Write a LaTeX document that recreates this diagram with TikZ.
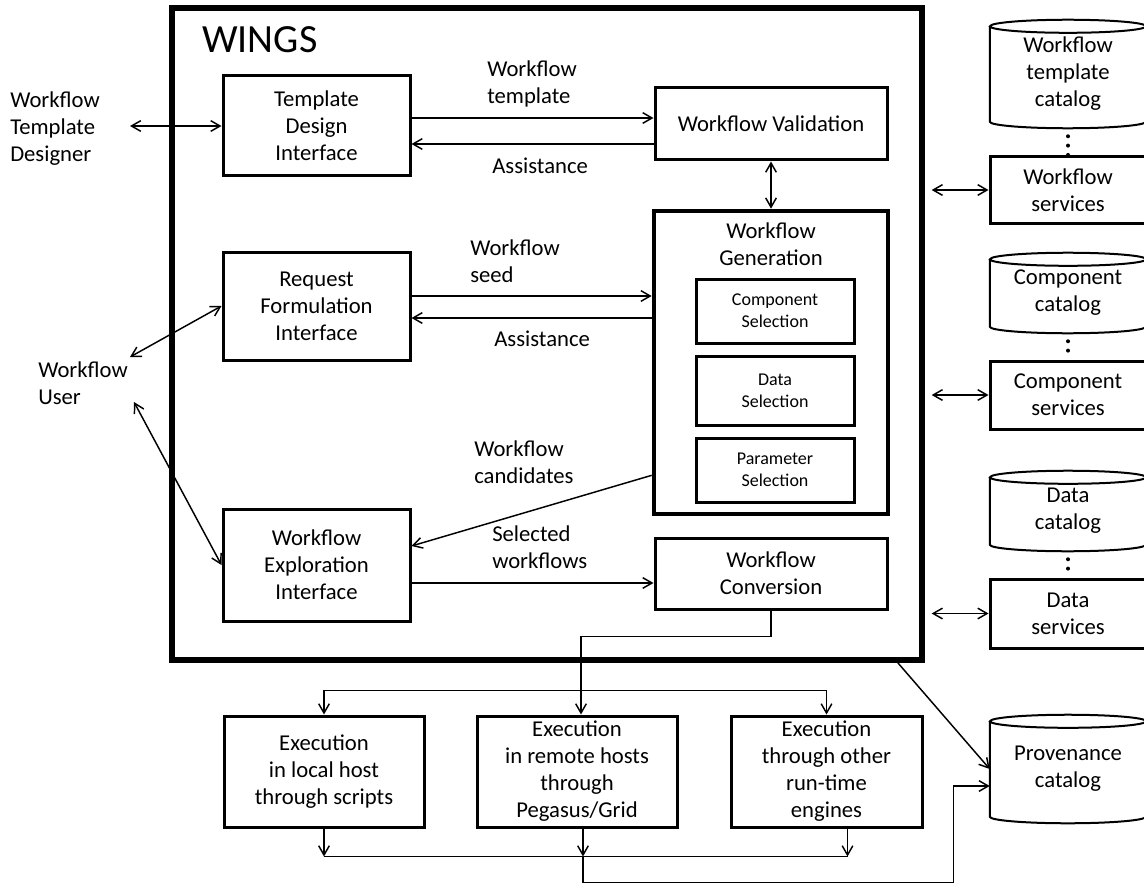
\documentclass[tikz,border=0pt]{standalone}
\usepackage{fontspec}
\setmainfont{Carlito}
\usetikzlibrary{arrows.meta}

\begin{document}
\begin{tikzpicture}[x = 0.75pt, y = -0.75pt, >={Straight Barb[length=7pt,width=8pt]}, font=\fontsize{17}{20.25}\selectfont]
\tikzstyle{boxStyle}=[draw, line width = 2.25pt, inner sep = 0pt, align = center]
\tikzstyle{smallBoxStyle}=[boxStyle, font = \fontsize{13.5}{16.5}\selectfont]
\tikzstyle{catalogStyle}=[inner sep = 0pt, align = center]
\tikzstyle{labelStyle}=[inner sep = 0pt, align = left, anchor = west]
\tikzstyle{cylStyle}=[line width = 1.5pt]
\tikzstyle{linkStyle}=[line width = 1.1pt]
\tikzstyle{dotStyle}=[line width = 3pt, line cap = round, dash pattern = on 0pt off 7pt, shorten <= 6pt]
\tikzset{boxSize/.style 2 args = {minimum width = #1*0.75pt, minimum height = #2*0.75pt}}
\useasboundingbox (0,0) rectangle (1144,884);
\node[boxStyle, line width = 4.5pt, boxSize = {750}{652}] (wings) at (547,334) {};
\node[anchor = base west, inner sep = 0pt, font = \fontsize{30}{36}\selectfont] (title) at (202,53) {WINGS};
\node[boxStyle, boxSize = {187}{100}] (tdi) at (316.5,126) {Template\\Design\\Interface};
\node[boxStyle, boxSize = {187}{108}] (rfi) at (316.5,306) {Request\\Formulation\\Interface};
\node[boxStyle, boxSize = {187}{112}] (wei) at (316.5,565) {Workflow\\Exploration\\Interface};
\node[boxStyle, boxSize = {232}{72}] (wval) at (771,124) {Workflow Validation};
\node[boxStyle, line width = 3.5pt, boxSize = {234}{303}] (wgen) at (771,362.5) {};
\node[catalogStyle] (gentitle) at (771,244) {Workflow\\Generation};
\node[smallBoxStyle, boxSize = {158}{64}] (csel) at (775,311) {Component\\Selection};
\node[smallBoxStyle, boxSize = {158}{69}] (dsel) at (775,390.5) {Data\\Selection};
\node[smallBoxStyle, boxSize = {158}{64}] (psel) at (775,470) {Parameter\\Selection};
\node[boxStyle, boxSize = {232}{71}] (wconv) at (771,573.5) {Workflow\\Conversion};
\node[catalogStyle, boxSize = {156}{108}] (wtcat) at (1068,74) {Workflow\\template\\catalog};
\node[boxStyle, boxSize = {156}{66}] (wsrv) at (1068,190) {Workflow\\services};
\node[catalogStyle, boxSize = {156}{80}] (ccat) at (1068,293) {Component\\catalog};
\node[boxStyle, boxSize = {156}{68}] (csrv) at (1068,395) {Component\\services};
\node[catalogStyle, boxSize = {156}{80}] (dcat) at (1068,511) {Data\\catalog};
\node[boxStyle, boxSize = {156}{69}] (dsrv) at (1068,613.5) {Data\\services};
\node[catalogStyle, boxSize = {156}{108}] (pcat) at (1068,769) {Provenance\\catalog};
\node[boxStyle, boxSize = {200}{111}] (exec1) at (324,771.5) {Execution\\in local host\\through scripts};
\node[boxStyle, boxSize = {200}{111}] (exec2) at (577,771.5) {Execution\\in remote hosts\\through\\Pegasus/Grid};
\node[boxStyle, boxSize = {191}{111}] (exec3) at (826.5,771.5) {Execution\\through other\\run-time\\engines};
\node[labelStyle] (wtd) at (10,129) {Workflow\\Template\\Designer};
\node[labelStyle] (wu) at (38,383) {Workflow\\User};
\node[labelStyle] (lbltpl) at (487,84) {Workflow\\template};
\node[labelStyle] (lblas1) at (492,166) {Assistance};
\node[labelStyle] (lblseed) at (470,261) {Workflow\\seed};
\node[labelStyle] (lblas2) at (494,339) {Assistance};
\node[labelStyle] (lblcand) at (474,462) {Workflow\\candidates};
\node[labelStyle] (lblsel) at (492,547) {Selected\\workflows};
\foreach \c in {wtcat, ccat, dcat, pcat}{
  \draw[cylStyle] ([yshift=-4.9pt]\c.north west) -- ([yshift=4.9pt]\c.south west) arc[start angle=180, end angle=360, x radius=58.5pt, y radius=4.9pt] -- ([yshift=-4.9pt]\c.north east);
  \draw[cylStyle] ([yshift=-4.9pt]\c.north) ellipse[x radius=58.5pt, y radius=4.9pt];
}
\draw[dotStyle] (wtcat.south) -- (wsrv.north);
\draw[dotStyle] (ccat.south) -- (csrv.north);
\draw[dotStyle] (dcat.south) -- (dsrv.north);
\coordinate (wtdEnd) at (130,126);
\coordinate (wuTop) at (130,357);
\coordinate (wuBot) at (134,402);
\draw[linkStyle, <->] (wtdEnd) -- (tdi.west);
\draw[linkStyle, <->] (wuTop) -- (rfi.west);
\draw[linkStyle, <->] (wuBot) -- (wei.west);
\draw[linkStyle, ->] ([yshift=6pt]tdi.east) -- ([yshift=6pt]tdi.east -| wval.west);
\draw[linkStyle, ->] ([yshift=-13.5pt]tdi.east -| wval.west) -- ([yshift=-13.5pt]tdi.east);
\draw[linkStyle, ->] ([yshift=7.5pt]rfi.east) -- ([yshift=7.5pt]rfi.east -| wgen.west);
\draw[linkStyle, ->] ([yshift=-9pt]rfi.east -| wgen.west) -- ([yshift=-9pt]rfi.east);
\draw[linkStyle, <->] (wval.south) -- (wgen.north);
\draw[linkStyle, ->] ([yshift=30.75pt]wgen.south west) -- ([yshift=14.25pt]wei.east);
\draw[linkStyle, ->] ([yshift=-13.5pt]wei.east) -- ([yshift=-13.5pt]wei.east -| wconv.west);
\draw[linkStyle, <->] ([xshift=5pt]wings.east |- wsrv.west) -- (wsrv.west);
\draw[linkStyle, <->] ([xshift=5pt]wings.east |- csrv.west) -- (csrv.west);
\draw[linkStyle, <->] ([xshift=5pt]wings.east |- dsrv.west) -- (dsrv.west);
\draw[linkStyle, ->] ([xshift=-20.25pt]wings.south east) -- (pcat.west);
\draw[linkStyle, ->] (wconv.south) -- ++(0,26) -| ([xshift=3pt]exec2.north);
\draw[linkStyle, <->] (exec1.north) -- ++(0,-24) -| (exec3.north);
\draw[linkStyle, ->] (exec1.south) -- ++(0,28);
\draw[linkStyle, ->] ([xshift=4.5pt]exec2.south) -- ++(0,28);
\draw[linkStyle, ->] ([xshift=15.75pt]exec3.south) -- ++(0,28);
\draw[linkStyle] ([yshift=-21pt]exec1.south) -- ([xshift=15.75pt,yshift=-21pt]exec3.south);
\draw[linkStyle, ->] ([xshift=4.5pt,yshift=-21pt]exec2.south) -- ++(0,26) -| ([xshift=-27pt,yshift=-12.75pt]pcat.west) -- ([yshift=-12.75pt]pcat.west);
\end{tikzpicture}
\end{document}
